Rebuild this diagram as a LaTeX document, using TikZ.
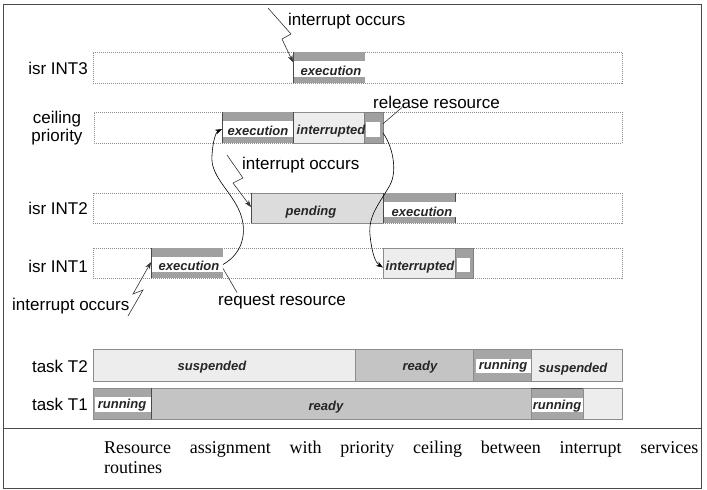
\documentclass[tikz,border=0pt]{standalone}
\usepackage{fontspec}
\setmainfont{Liberation Sans}
\newfontfamily\capfont{Liberation Serif}
\usetikzlibrary{arrows.meta,calc,fit}
\definecolor{stripe}{HTML}{A0A0A0}
\definecolor{darkln}{HTML}{4A4A4A}
\definecolor{lightf}{HTML}{EDEDED}
\definecolor{pendf}{HTML}{DCDCDC}
\definecolor{readyf}{HTML}{C4C4C4}
\definecolor{runf}{HTML}{A6A6A6}
\definecolor{dotc}{HTML}{8C8C8C}
\definecolor{annc}{HTML}{333333}
\newcommand\blk[6]{\node[fit={(#2,#3) (#4,#5)}, inner sep=0pt, outer sep=0pt, #6] (#1) {};}
\newcommand\execb[5]{\blk{#1}{#2}{#3}{#4}{#5}{}
  \fill[stripe] (#1.north west) rectangle ($(#1.north east)+(0,9)$);
  \fill[stripe] ($(#1.south west)+(0,-6)$) rectangle (#1.south east);
  \draw[darkln, line width=0.8pt] (#1.north west) -- (#1.south west);}
\newcommand\smallb[5]{\blk{#1}{#2}{#3}{#4}{#5}{fill=stripe, draw=darkln!70, line width=0.6pt}
  \fill[white] ($(#1.north west)+(2,10)$) rectangle ($(#1.south east)+(-3,-6)$);}
\begin{document}
\begin{tikzpicture}[x=1pt,y=-1pt,
  lab/.style={font=\fontsize{17}{18}\selectfont, inner sep=0pt},
  barlab/.style={font=\fontsize{13}{15}\selectfont\bfseries\itshape, inner sep=0pt, text=black!85},
  dotbar/.style={draw=dotc, dash pattern=on 1pt off 1pt, fill=white, line width=0.7pt},
  solbar/.style={draw=dotc, line width=0.7pt},
  zig/.style={draw=annc, line width=0.6pt, -{Stealth[length=7pt,width=5pt]}},
  curv/.style={draw=black, line width=0.6pt, -{Stealth[length=7pt,width=5pt]}},
  pointer/.style={draw=annc, line width=0.6pt},
  captext/.style={anchor=base west, inner sep=0pt, font=\capfont\fontsize{18}{20}\selectfont}]
\useasboundingbox (0,0) rectangle (707,490);
\fill[white] (0,0) rectangle (707,490);
\node[fit={(3,4) (701,488)}, draw=darkln, line width=1pt, inner sep=0pt] (frame) {};
\coordinate (sepL) at (3,428);
\coordinate (sepR) at (701,428);
\draw[darkln, line width=1pt] (sepL) -- (sepR);

% row labels
\node[lab, anchor=east] (lint3) at (88,68) {isr INT3};
\node[lab, align=center] (lceil) at (57,128) {ceiling\\priority};
\node[lab, anchor=east] (lint2) at (88,208) {isr INT2};
\node[lab, anchor=east] (lint1) at (88,266) {isr INT1};
\node[lab, anchor=east] (lt2) at (88,366) {task T2};
\node[lab, anchor=east] (lt1) at (88,404) {task T1};

% dotted bars
\blk{int3}{93}{52}{622}{83}{dotbar}
\blk{ceil}{94}{112}{622}{143}{dotbar}
\blk{int2}{93}{193}{622}{223}{dotbar}
\blk{int1}{93}{248}{622}{278}{dotbar}

% INT3
\execb{int3ex}{293}{52}{365}{83}
\node[barlab] (int3ext) at (331,71) {execution};

% ceiling priority
\execb{ceilex}{222}{112}{293}{143}
\blk{ceilint}{293}{112}{364}{143}{fill=lightf, draw=dotc, line width=0.6pt}
\draw[darkln, line width=0.8pt] (ceilint.north west) -- (ceilint.south west);
\smallb{ceilsm}{364}{112}{383}{143}
\node[barlab] (ceilext) at (258,131) {execution};
\node[barlab] (ceilintt) at (331,131) {interrupted};

% INT2
\blk{pend}{251}{193}{383}{223}{fill=pendf, draw=dotc, line width=0.6pt}
\draw[darkln, line width=0.8pt] (pend.north west) -- (pend.south west);
\execb{int2ex}{383}{193}{455}{223}
\draw[darkln, line width=0.8pt] (int2ex.north east) -- ++(0,9);
\draw[darkln, line width=0.8pt] (int2ex.south east) -- ++(0,-6);
\node[barlab] (pendt) at (311,212) {pending};
\node[barlab] (int2ext) at (422,212) {execution};

% INT1
\execb{int1ex}{151}{248}{223}{278}
\blk{int1int}{383}{248}{455}{278}{fill=lightf, draw=dotc, line width=0.6pt}
\smallb{int1sm}{455}{248}{473}{278}
\node[barlab] (int1ext) at (189,266) {execution};
\node[barlab] (int1intt) at (420,267) {interrupted};

% task T2
\blk{t2a}{93}{349}{355}{381}{fill=lightf, solbar}
\blk{t2b}{355}{349}{473}{381}{fill=readyf, solbar}
\blk{t2c}{473}{349}{531}{381}{fill=runf, solbar}
\fill[white] (476,359) rectangle (531,373);
\blk{t2d}{531}{349}{622}{381}{fill=lightf, solbar}
\node[barlab] (t2at) at (212,367) {suspended};
\node[barlab] (t2bt) at (420,367) {ready};
\node[barlab] (t2ct) at (503,366) {running};
\node[barlab] (t2dt) at (573,369) {suspended};

% task T1
\blk{t1a}{93}{388}{151}{419}{fill=runf, solbar}
\fill[white] (95,397) rectangle (151,412);
\blk{t1b}{151}{388}{531}{419}{fill=readyf, solbar}
\draw[darkln, line width=0.6pt] (t1b.north west) -- (t1b.south west);
\blk{t1c}{531}{388}{583}{419}{fill=runf, solbar}
\fill[white] (532,398) rectangle (583,412);
\draw[darkln, line width=0.8pt] (t1c.north west) -- (t1c.north east) -- (t1c.south east);
\blk{t1d}{583}{388}{622}{419}{fill=lightf, solbar}
\node[barlab] (t1at) at (122,405) {running};
\node[barlab] (t1bt) at (326,407) {ready};
\node[barlab] (t1ct) at (557,406) {running};

% annotations
\node[lab, anchor=west] (ann1) at (288,21) {interrupt occurs};
\node[lab, anchor=west] (ann2) at (373,102) {release resource};
\node[lab, anchor=west] (ann3) at (242,165) {interrupt occurs};
\node[lab, anchor=west] (ann4) at (218,302) {request resource};
\node[lab, anchor=west] (ann5) at (12,306) {interrupt occurs};

% lightning arrows
\coordinate (z1a) at (268,8);
\coordinate (z1b) at (291,34);
\coordinate (z1c) at (282,39);
\draw[zig] (z1a) -- (z1b) -- (z1c) -- ($(int3ex.north west)!0.33!(int3ex.south west)$);
\coordinate (z2a) at (227,155);
\coordinate (z2b) at (243,178);
\coordinate (z2c) at (233,183);
\draw[zig] (z2a) -- (z2b) -- (z2c) -- ($(pend.north west)!0.47!(pend.south west)$);
\coordinate (z3a) at (128,316);
\coordinate (z3b) at (143,290);
\coordinate (z3c) at (133,294);
\draw[zig] (z3a) -- (z3b) -- (z3c) -- ($(int1ex.north west)!0.47!(int1ex.south west)$);

% pointer lines
\draw[pointer] ($(ceilsm.north east)!0.38!(ceilsm.south east)$) -- ($(ann2.south west)+(29,-1)$);
\draw[pointer] ($(int1ex.north east)!0.68!(int1ex.south east)$) -- ($(ann4.north west)+(19,-2)$);

% curved connectors
\draw[curv] ($(int1ex.north east)!0.55!(int1ex.south east)$)
  .. controls (245,252) and (248,228) .. (238,208)
  .. controls (228,188) and (210,175) .. (212,155)
  .. controls (213,140) and (216,132) .. ($(ceilex.north west)!0.55!(ceilex.south west)$);
\draw[curv] ($(ceilsm.north east)!0.68!(ceilsm.south east)$)
  .. controls (392,145) and (398,170) .. (390,185)
  .. controls (380,203) and (368,215) .. (370,235)
  .. controls (372,255) and (376,263) .. ($(int1int.north west)!0.65!(int1int.south west)$);

% caption
\node[captext] (cap1) at (104,453)
  {\hbox to 594pt{Resource\hfill assignment\hfill with\hfill priority\hfill ceiling\hfill between\hfill interrupt\hfill services}};
\node[captext] (cap2) at (104,473) {routines};
\end{tikzpicture}
\end{document}
